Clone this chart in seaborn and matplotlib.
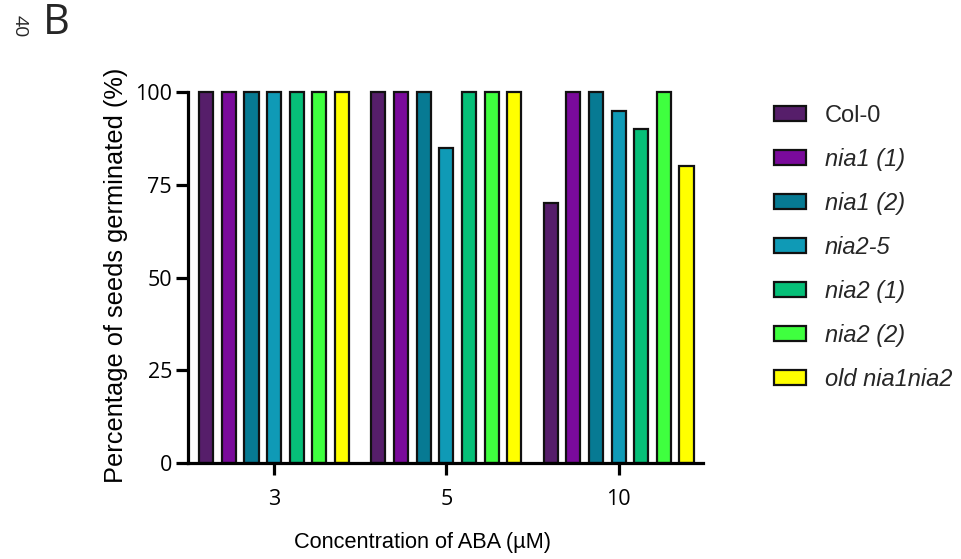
import matplotlib
matplotlib.use("Agg")
import matplotlib.pyplot as plt
import seaborn as sns
import pandas as pd

concentrations = ["3", "5", "10"]
genotypes = ["Col-0", "nia1 (1)", "nia1 (2)", "nia2-5", "nia2 (1)", "nia2 (2)", "old nia1nia2"]
values_3 = [100, 100, 100, 100, 100, 100, 100]
values_5 = [100, 100, 100, 85, 100, 100, 100]
values_10 = [70, 100, 100, 95, 90, 100, 80]
colors = ["#561E6A", "#7A0A9B", "#077A93", "#0F9AB6", "#06BF78", "#3FFF3F", "#FFFF00"]
yticks = [0, 25, 50, 75, 100]

rows = []
for conc, vals in zip(concentrations, [values_3, values_5, values_10]):
    for g, v in zip(genotypes, vals):
        rows.append({"conc": conc, "genotype": g, "pct": v})
df = pd.DataFrame(rows)

sns.set_style("white")
plt.rcParams["font.family"] = ["Liberation Sans", "DejaVu Sans"]

fig = plt.figure(figsize=(9.61, 5.59), dpi=100)
ax = fig.add_axes([188 / 961, 1 - 463 / 559, 515 / 961, 371 / 559])

sns.barplot(data=df, x="conc", y="pct", hue="genotype", order=concentrations,
            hue_order=genotypes, palette=colors, width=0.92, gap=0.38,
            edgecolor="#111111", linewidth=1.6, saturation=1, ax=ax, legend=True)

for p in ax.patches:
    p.set_clip_on(False)

ax.set_ylim(0, 100)
ax.set_xlim(-0.5, 2.49)
ax.set_yticks(yticks)
for s in ["top", "right"]:
    ax.spines[s].set_visible(False)
for s in ["left", "bottom"]:
    ax.spines[s].set_linewidth(2.3)
    ax.spines[s].set_color("black")
ax.tick_params(axis="both", which="major", length=8.5, width=2.3, color="black",
               direction="out", left=True, bottom=True)
ax.tick_params(axis="y", pad=3)
ax.tick_params(axis="x", pad=10)
for lab in ax.get_xticklabels() + ax.get_yticklabels():
    lab.set_fontfamily("Open Sans")
    lab.set_fontsize(15.5)
    lab.set_color("black")

ax.set_xlabel("Concentration of ABA (µM)", fontsize=15.7, color="black")
ax.xaxis.set_label_coords(0.456, -0.213)
ax.xaxis.label.set_verticalalignment("center")
ax.set_ylabel("Percentage of seeds germinated (%)", fontsize=18.3, color="black")
ax.yaxis.set_label_coords((116 - 188) / 515, 1 - (275 - 92) / 371)
ax.yaxis.label.set_verticalalignment("center")

handles, labels = ax.get_legend_handles_labels()
ax.get_legend().remove()
leg = fig.legend(handles, labels, loc="upper left", bbox_to_anchor=(757 / 961, 1 - 88 / 559),
                 frameon=False, fontsize=17, handlelength=1.36, handleheight=0.62,
                 handletextpad=0.8, labelspacing=0.89, borderpad=0.2)
for t in leg.get_texts():
    if t.get_text() != "Col-0":
        t.set_fontstyle("italic")

fig.text(56 / 961, 1 - 23 / 559, "B", fontsize=30, fontfamily="Open Sans",
         ha="center", va="center")
fig.text(20 / 961, 1 - 26 / 559, "40", fontsize=14, fontfamily="Open Sans",
         rotation=270, ha="center", va="center")

fig.savefig("out.png", dpi=100)
